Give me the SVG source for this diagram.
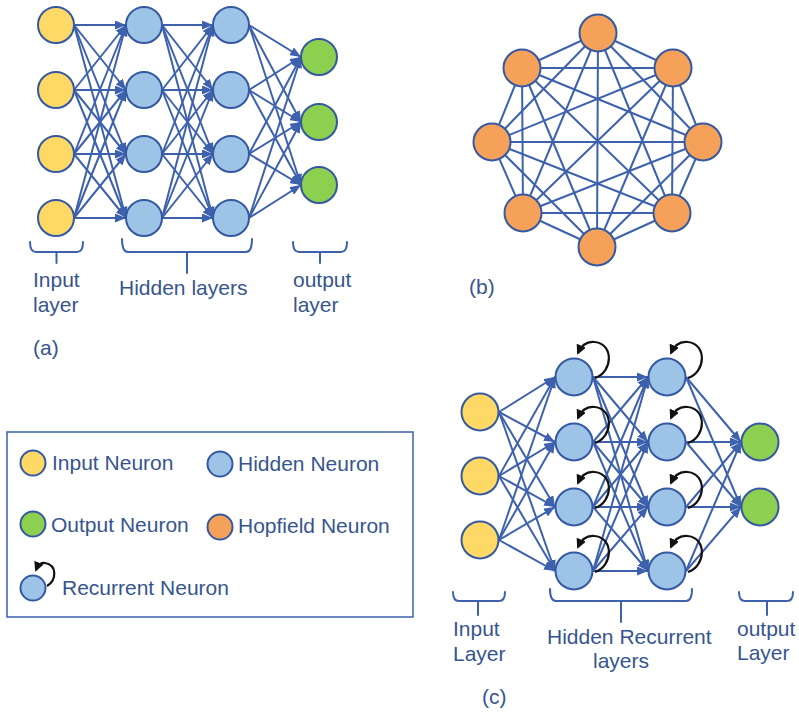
<svg xmlns="http://www.w3.org/2000/svg" width="799" height="713" viewBox="0 0 799 713">
<style>
  .e { stroke: #3D61AD; stroke-width: 2; fill: none; }
  .ea { stroke: #3D61AD; stroke-width: 2; fill: none; marker-end: url(#ah); }
  .rec { stroke: #111; stroke-width: 2.2; fill: none; marker-end: url(#ahk); }
  .br { stroke: #3D61AD; stroke-width: 2; fill: none; stroke-linecap: round; stroke-linejoin: round; }
  .n { stroke: #3558A3; stroke-width: 2; }
  .in { fill: #FFD966; }
  .hid { fill: #9DC3E6; }
  .out { fill: #8DCF4E; }
  .hop { fill: #F6A15A; }
  text { font-family: "Liberation Sans", Arial, sans-serif; font-size: 21px; fill: #36558F; }
</style>
<defs>
  <marker id="ah" markerUnits="userSpaceOnUse" markerWidth="11" markerHeight="9" refX="11" refY="4.5" orient="auto">
    <path d="M0,0 L11,4.5 L0,9 z" fill="#3D61AD"/>
  </marker>
  <marker id="ahk" markerUnits="userSpaceOnUse" markerWidth="10" markerHeight="10" refX="8" refY="5" orient="auto">
    <path d="M0,0 L10,5 L0,10 z" fill="#111"/>
  </marker>
</defs>

<!-- (a) feed-forward network: connectors -->
<g id="a-edges">
  <line class="ea" x1="74" y1="25" x2="126" y2="25"/>
  <line class="ea" x1="74" y1="25" x2="126" y2="90"/>
  <line class="ea" x1="74" y1="25" x2="126" y2="154"/>
  <line class="ea" x1="74" y1="25" x2="126" y2="218"/>
  <line class="ea" x1="74" y1="90" x2="126" y2="25"/>
  <line class="ea" x1="74" y1="90" x2="126" y2="90"/>
  <line class="ea" x1="74" y1="90" x2="126" y2="154"/>
  <line class="ea" x1="74" y1="90" x2="126" y2="218"/>
  <line class="ea" x1="74" y1="154" x2="126" y2="25"/>
  <line class="ea" x1="74" y1="154" x2="126" y2="90"/>
  <line class="ea" x1="74" y1="154" x2="126" y2="154"/>
  <line class="ea" x1="74" y1="154" x2="126" y2="218"/>
  <line class="ea" x1="74" y1="218" x2="126" y2="25"/>
  <line class="ea" x1="74" y1="218" x2="126" y2="90"/>
  <line class="ea" x1="74" y1="218" x2="126" y2="154"/>
  <line class="ea" x1="74" y1="218" x2="126" y2="218"/>

  <line class="ea" x1="162" y1="25" x2="213" y2="25"/>
  <line class="ea" x1="162" y1="25" x2="213" y2="90"/>
  <line class="ea" x1="162" y1="25" x2="213" y2="154"/>
  <line class="ea" x1="162" y1="25" x2="213" y2="218"/>
  <line class="ea" x1="162" y1="90" x2="213" y2="25"/>
  <line class="ea" x1="162" y1="90" x2="213" y2="90"/>
  <line class="ea" x1="162" y1="90" x2="213" y2="154"/>
  <line class="ea" x1="162" y1="90" x2="213" y2="218"/>
  <line class="ea" x1="162" y1="154" x2="213" y2="25"/>
  <line class="ea" x1="162" y1="154" x2="213" y2="90"/>
  <line class="ea" x1="162" y1="154" x2="213" y2="154"/>
  <line class="ea" x1="162" y1="154" x2="213" y2="218"/>
  <line class="ea" x1="162" y1="218" x2="213" y2="25"/>
  <line class="ea" x1="162" y1="218" x2="213" y2="90"/>
  <line class="ea" x1="162" y1="218" x2="213" y2="154"/>
  <line class="ea" x1="162" y1="218" x2="213" y2="218"/>

  <line class="ea" x1="249" y1="25" x2="301" y2="57"/>
  <line class="ea" x1="249" y1="25" x2="301" y2="122"/>
  <line class="ea" x1="249" y1="25" x2="301" y2="185"/>
  <line class="ea" x1="249" y1="90" x2="301" y2="57"/>
  <line class="ea" x1="249" y1="90" x2="301" y2="122"/>
  <line class="ea" x1="249" y1="90" x2="301" y2="185"/>
  <line class="ea" x1="249" y1="154" x2="301" y2="57"/>
  <line class="ea" x1="249" y1="154" x2="301" y2="122"/>
  <line class="ea" x1="249" y1="154" x2="301" y2="185"/>
  <line class="ea" x1="249" y1="218" x2="301" y2="57"/>
  <line class="ea" x1="249" y1="218" x2="301" y2="122"/>
  <line class="ea" x1="249" y1="218" x2="301" y2="185"/>
</g>

<!-- (a) nodes -->
<g id="a-in1"><circle class="n in" cx="56" cy="25" r="18"/></g>
<g id="a-in2"><circle class="n in" cx="56" cy="90" r="18"/></g>
<g id="a-in3"><circle class="n in" cx="56" cy="154" r="18"/></g>
<g id="a-in4"><circle class="n in" cx="56" cy="218" r="18"/></g>
<g id="a-h1-1"><circle class="n hid" cx="144" cy="25" r="18"/></g>
<g id="a-h1-2"><circle class="n hid" cx="144" cy="90" r="18"/></g>
<g id="a-h1-3"><circle class="n hid" cx="144" cy="154" r="18"/></g>
<g id="a-h1-4"><circle class="n hid" cx="144" cy="218" r="18"/></g>
<g id="a-h2-1"><circle class="n hid" cx="231" cy="25" r="18"/></g>
<g id="a-h2-2"><circle class="n hid" cx="231" cy="90" r="18"/></g>
<g id="a-h2-3"><circle class="n hid" cx="231" cy="154" r="18"/></g>
<g id="a-h2-4"><circle class="n hid" cx="231" cy="218" r="18"/></g>
<g id="a-out1"><circle class="n out" cx="319" cy="57" r="18"/></g>
<g id="a-out2"><circle class="n out" cx="319" cy="122" r="18"/></g>
<g id="a-out3"><circle class="n out" cx="319" cy="185" r="18"/></g>

<!-- (a) layer brackets and labels -->
<g id="a-labels">
  <path class="br" d="M30 242 Q30 252 36 252 L77 252 Q83 252 83 242 M56.5 252 L56.5 263"/>
  <path class="br" d="M122 239 Q122 252 128 252 L246 252 Q252 252 252 239 M187 252 L187 273"/>
  <path class="br" d="M293 242 Q293 252 299 252 L341 252 Q347 252 347 242 M320 252 L320 263"/>
  <text x="33" y="287">Input</text>
  <text x="33" y="312">layer</text>
  <text x="119" y="295">Hidden layers</text>
  <text x="293" y="287">output</text>
  <text x="293" y="312">layer</text>
  <text x="33" y="355">(a)</text>
</g>

<!-- (b) Hopfield network: fully connected -->
<g id="b-edges">
  <line class="e" x1="598" y1="33" x2="673" y2="68"/>
  <line class="e" x1="598" y1="33" x2="703" y2="142"/>
  <line class="e" x1="598" y1="33" x2="672" y2="213"/>
  <line class="e" x1="598" y1="33" x2="597" y2="247"/>
  <line class="e" x1="598" y1="33" x2="523" y2="213"/>
  <line class="e" x1="598" y1="33" x2="492" y2="142"/>
  <line class="e" x1="598" y1="33" x2="522" y2="68"/>
  <line class="e" x1="673" y1="68" x2="703" y2="142"/>
  <line class="e" x1="673" y1="68" x2="672" y2="213"/>
  <line class="e" x1="673" y1="68" x2="597" y2="247"/>
  <line class="e" x1="673" y1="68" x2="523" y2="213"/>
  <line class="e" x1="673" y1="68" x2="492" y2="142"/>
  <line class="e" x1="673" y1="68" x2="522" y2="68"/>
  <line class="e" x1="703" y1="142" x2="672" y2="213"/>
  <line class="e" x1="703" y1="142" x2="597" y2="247"/>
  <line class="e" x1="703" y1="142" x2="523" y2="213"/>
  <line class="e" x1="703" y1="142" x2="492" y2="142"/>
  <line class="e" x1="703" y1="142" x2="522" y2="68"/>
  <line class="e" x1="672" y1="213" x2="597" y2="247"/>
  <line class="e" x1="672" y1="213" x2="523" y2="213"/>
  <line class="e" x1="672" y1="213" x2="492" y2="142"/>
  <line class="e" x1="672" y1="213" x2="522" y2="68"/>
  <line class="e" x1="597" y1="247" x2="523" y2="213"/>
  <line class="e" x1="597" y1="247" x2="492" y2="142"/>
  <line class="e" x1="597" y1="247" x2="522" y2="68"/>
  <line class="e" x1="523" y1="213" x2="492" y2="142"/>
  <line class="e" x1="523" y1="213" x2="522" y2="68"/>
  <line class="e" x1="492" y1="142" x2="522" y2="68"/>
</g>
<g id="b-n1"><circle class="n hop" cx="598" cy="33" r="18.5"/></g>
<g id="b-n2"><circle class="n hop" cx="673" cy="68" r="18.5"/></g>
<g id="b-n3"><circle class="n hop" cx="703" cy="142" r="18.5"/></g>
<g id="b-n4"><circle class="n hop" cx="672" cy="213" r="18.5"/></g>
<g id="b-n5"><circle class="n hop" cx="597" cy="247" r="18.5"/></g>
<g id="b-n6"><circle class="n hop" cx="523" cy="213" r="18.5"/></g>
<g id="b-n7"><circle class="n hop" cx="492" cy="142" r="18.5"/></g>
<g id="b-n8"><circle class="n hop" cx="522" cy="68" r="18.5"/></g>
<text x="469" y="294">(b)</text>

<!-- legend -->
<g id="legend">
  <rect x="7" y="432" width="406" height="185" fill="none" stroke="#3D61AD" stroke-width="1.5"/>
  <circle class="n in" cx="33" cy="463" r="12.5"/>
  <text x="52" y="470">Input Neuron</text>
  <circle class="n hid" cx="220" cy="464" r="12.5"/>
  <text x="238" y="471">Hidden Neuron</text>
  <circle class="n out" cx="33" cy="524" r="12.5"/>
  <text x="51" y="532">Output Neuron</text>
  <circle class="n hop" cx="220" cy="527" r="12.5"/>
  <text x="238" y="533">Hopfield Neuron</text>
  <circle class="n hid" cx="33" cy="588" r="12.5"/>
  <path class="rec" d="M47 586 C57 580 57 565 45 563 C41 562 38 565 36 570"/>
  <text x="62" y="595">Recurrent Neuron</text>
</g>

<!-- (c) recurrent network: connectors -->
<g id="c-edges">
  <line class="ea" x1="499" y1="412" x2="555" y2="377"/>
  <line class="ea" x1="499" y1="412" x2="555" y2="442"/>
  <line class="ea" x1="499" y1="412" x2="555" y2="507"/>
  <line class="ea" x1="499" y1="412" x2="555" y2="571"/>
  <line class="ea" x1="499" y1="476" x2="555" y2="377"/>
  <line class="ea" x1="499" y1="476" x2="555" y2="442"/>
  <line class="ea" x1="499" y1="476" x2="555" y2="507"/>
  <line class="ea" x1="499" y1="476" x2="555" y2="571"/>
  <line class="ea" x1="499" y1="540" x2="555" y2="377"/>
  <line class="ea" x1="499" y1="540" x2="555" y2="442"/>
  <line class="ea" x1="499" y1="540" x2="555" y2="507"/>
  <line class="ea" x1="499" y1="540" x2="555" y2="571"/>

  <line class="ea" x1="593" y1="377" x2="648" y2="377"/>
  <line class="ea" x1="593" y1="377" x2="648" y2="442"/>
  <line class="ea" x1="593" y1="377" x2="648" y2="507"/>
  <line class="ea" x1="593" y1="377" x2="648" y2="571"/>
  <line class="ea" x1="593" y1="442" x2="648" y2="377"/>
  <line class="ea" x1="593" y1="442" x2="648" y2="442"/>
  <line class="ea" x1="593" y1="442" x2="648" y2="507"/>
  <line class="ea" x1="593" y1="442" x2="648" y2="571"/>
  <line class="ea" x1="593" y1="507" x2="648" y2="377"/>
  <line class="ea" x1="593" y1="507" x2="648" y2="442"/>
  <line class="ea" x1="593" y1="507" x2="648" y2="507"/>
  <line class="ea" x1="593" y1="507" x2="648" y2="571"/>
  <line class="ea" x1="593" y1="571" x2="648" y2="377"/>
  <line class="ea" x1="593" y1="571" x2="648" y2="442"/>
  <line class="ea" x1="593" y1="571" x2="648" y2="507"/>
  <line class="ea" x1="593" y1="571" x2="648" y2="571"/>

  <line class="ea" x1="686" y1="377" x2="741" y2="442"/>
  <line class="ea" x1="686" y1="377" x2="741" y2="507"/>
  <line class="ea" x1="686" y1="442" x2="741" y2="442"/>
  <line class="ea" x1="686" y1="442" x2="741" y2="507"/>
  <line class="ea" x1="686" y1="507" x2="741" y2="442"/>
  <line class="ea" x1="686" y1="507" x2="741" y2="507"/>
  <line class="ea" x1="686" y1="571" x2="741" y2="442"/>
  <line class="ea" x1="686" y1="571" x2="741" y2="507"/>
</g>

<!-- (c) nodes with self-loops -->
<g id="c-in1"><circle class="n in" cx="480" cy="412" r="18.5"/></g>
<g id="c-in2"><circle class="n in" cx="480" cy="476" r="18.5"/></g>
<g id="c-in3"><circle class="n in" cx="480" cy="540" r="18.5"/></g>
<g id="c-h1-1"><circle class="n hid" cx="574" cy="377" r="18.5"/><path class="rec" d="M595 378 C613 372 614 344 595 342 C588 341 582 344 578 353"/></g>
<g id="c-h1-2"><circle class="n hid" cx="574" cy="442" r="18.5"/><path class="rec" d="M595 443 C613 437 614 409 595 407 C588 406 582 409 578 418"/></g>
<g id="c-h1-3"><circle class="n hid" cx="574" cy="507" r="18.5"/><path class="rec" d="M595 508 C613 502 614 474 595 472 C588 471 582 474 578 483"/></g>
<g id="c-h1-4"><circle class="n hid" cx="574" cy="571" r="18.5"/><path class="rec" d="M595 572 C613 566 614 538 595 536 C588 535 582 538 578 547"/></g>
<g id="c-h2-1"><circle class="n hid" cx="667" cy="377" r="18.5"/><path class="rec" d="M688 378 C706 372 707 344 688 342 C681 341 675 344 671 353"/></g>
<g id="c-h2-2"><circle class="n hid" cx="667" cy="442" r="18.5"/><path class="rec" d="M688 443 C706 437 707 409 688 407 C681 406 675 409 671 418"/></g>
<g id="c-h2-3"><circle class="n hid" cx="667" cy="507" r="18.5"/><path class="rec" d="M688 508 C706 502 707 474 688 472 C681 471 675 474 671 483"/></g>
<g id="c-h2-4"><circle class="n hid" cx="667" cy="571" r="18.5"/><path class="rec" d="M688 572 C706 566 707 538 688 536 C681 535 675 538 671 547"/></g>
<g id="c-out1"><circle class="n out" cx="760" cy="442" r="18.5"/></g>
<g id="c-out2"><circle class="n out" cx="760" cy="507" r="18.5"/></g>

<!-- (c) layer brackets and labels -->
<g id="c-labels">
  <path class="br" d="M453 592 Q453 601 459 601 L499 601 Q505 601 505 592 M478 601 L478 615"/>
  <path class="br" d="M550 589 Q550 601 556 601 L686 601 Q692 601 692 589 M621 601 L621 622"/>
  <path class="br" d="M739 592 Q739 601 745 601 L787 601 Q793 601 793 592 M767 601 L767 615"/>
  <text x="453" y="636">Input</text>
  <text x="453" y="661">Layer</text>
  <text x="547" y="644">Hidden Recurrent</text>
  <text x="621" y="668" text-anchor="middle">layers</text>
  <text x="737" y="636">output</text>
  <text x="737" y="660">Layer</text>
  <text x="482" y="704">(c)</text>
</g>
</svg>
